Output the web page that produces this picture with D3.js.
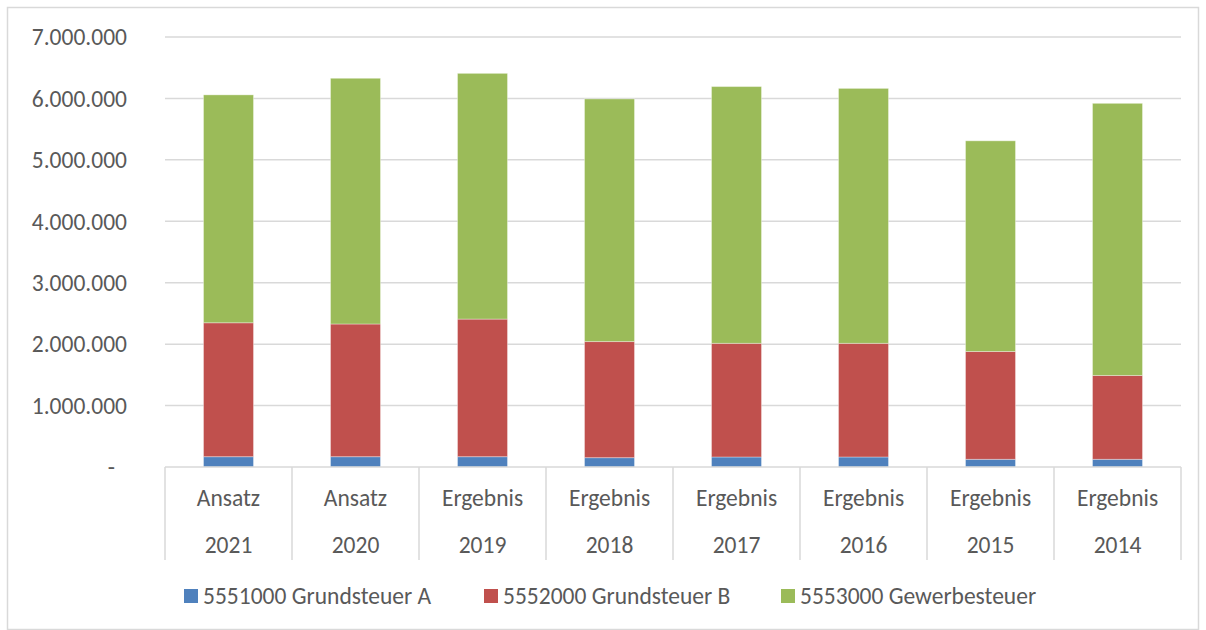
<!DOCTYPE html>
<html>
<head>
<meta charset="utf-8">
<script src="https://cdn.jsdelivr.net/npm/d3@7"></script>
<style>
  body { margin: 0; background: #fff; }
  text { font-family: Carlito, Lato, "Open Sans", sans-serif; fill: #595959; }
</style>
</head>
<body>
<div id="chart"></div>
<script>
var categories = ["Ansatz|2021", "Ansatz|2020", "Ergebnis|2019", "Ergebnis|2018",
                  "Ergebnis|2017", "Ergebnis|2016", "Ergebnis|2015", "Ergebnis|2014"];
var seriesNames = ["5551000 Grundsteuer A", "5552000 Grundsteuer B", "5553000 Gewerbesteuer"];
var grundsteuerA = [168000, 168000, 168000, 152000, 163000, 163000, 125000, 125000];
var grundsteuerB = [2180000, 2160000, 2240000, 1890000, 1850000, 1850000, 1755000, 1365000];
var gewerbesteuer = [3710000, 4000000, 4000000, 3950000, 4180000, 4150000, 3430000, 4430000];
var yTicks = [0, 1000000, 2000000, 3000000, 4000000, 5000000, 6000000, 7000000];
var colors = ["#4F81BD", "#C0504D", "#9BBB59"];

var width = 1206, height = 630;
var plotLeft = 165, plotRight = 1181, plotTop = 37, plotBottom = 467;
var fontSize = 23.5;

var svg = d3.select("#chart").append("svg")
    .attr("width", width)
    .attr("height", height);

// chart border
svg.append("rect")
    .attr("x", 7.5).attr("y", 7.5)
    .attr("width", width - 15).attr("height", height - 8)
    .attr("fill", "none")
    .attr("stroke", "#d9d9d9")
    .attr("stroke-width", 1.5);

var x = d3.scaleBand().domain(categories).range([plotLeft, plotRight]).padding(0);
var y = d3.scaleLinear().domain([0, 7000000]).range([plotBottom, plotTop]);

var fmt = function(v) {
    if (v === 0) return "-";
    return d3.format(",")(v).replace(/,/g, ".");
};

// gridlines
svg.append("g").selectAll("line")
    .data(yTicks.filter(function(d) { return d > 0; }))
    .join("line")
    .attr("x1", plotLeft).attr("x2", plotRight)
    .attr("y1", function(d) { return y(d); })
    .attr("y2", function(d) { return y(d); })
    .attr("stroke", "#d9d9d9")
    .attr("stroke-width", 1.5);

// y labels
svg.append("g").selectAll("text")
    .data(yTicks)
    .join("text")
    .attr("x", function(d) { return d === 0 ? 115 : 127; })
    .attr("y", function(d) { return y(d); })
    .attr("dy", "0.35em")
    .attr("text-anchor", "end")
    .attr("font-size", fontSize)
    .text(fmt);

// stacked data
var rows = categories.map(function(c, i) {
    return { cat: c, a: grundsteuerA[i], b: grundsteuerB[i], c: gewerbesteuer[i] };
});
var stack = d3.stack().keys(["a", "b", "c"])(rows);
var barW = 50;

svg.append("g").selectAll("g")
    .data(stack)
    .join("g")
    .attr("fill", function(d, i) { return colors[i]; })
    .selectAll("rect")
    .data(function(d) { return d; })
    .join("rect")
    .attr("x", function(d) { return x(d.data.cat) + x.bandwidth() / 2 - barW / 2; })
    .attr("width", barW)
    .attr("y", function(d) { return y(d[1]); })
    .attr("height", function(d) { return y(d[0]) - y(d[1]); })
    .attr("stroke", "#ffffff")
    .attr("stroke-opacity", 0.35)
    .attr("stroke-width", 1);

// category axis
svg.append("line")
    .attr("x1", plotLeft).attr("x2", plotRight)
    .attr("y1", plotBottom).attr("y2", plotBottom)
    .attr("stroke", "#d9d9d9").attr("stroke-width", 1.5);

var bounds = categories.map(function(c) { return x(c); }).concat([plotRight]);
svg.append("g").selectAll("line")
    .data(bounds)
    .join("line")
    .attr("x1", function(d) { return d; }).attr("x2", function(d) { return d; })
    .attr("y1", plotBottom).attr("y2", 560)
    .attr("stroke", "#d9d9d9").attr("stroke-width", 1.5);

var catG = svg.append("g").selectAll("g")
    .data(categories)
    .join("g")
    .attr("transform", function(d) { return "translate(" + (x(d) + x.bandwidth() / 2) + ",0)"; });
catG.append("text")
    .attr("y", 498).attr("dy", "0.35em")
    .attr("text-anchor", "middle").attr("font-size", fontSize)
    .text(function(d) { return d.split("|")[0]; });
catG.append("text")
    .attr("y", 545).attr("dy", "0.35em")
    .attr("text-anchor", "middle").attr("font-size", fontSize)
    .text(function(d) { return d.split("|")[1]; });

// legend
var legendX = [184, 484, 781];
var leg = svg.append("g").selectAll("g")
    .data(seriesNames)
    .join("g")
    .attr("transform", function(d, i) { return "translate(" + legendX[i] + ",596)"; });
leg.append("rect")
    .attr("x", 0).attr("y", -7)
    .attr("width", 14).attr("height", 14)
    .attr("fill", function(d, i) { return colors[i]; });
leg.append("text")
    .attr("x", 19).attr("dy", "0.35em")
    .attr("font-size", fontSize)
    .text(function(d) { return d; });
</script>
</body>
</html>
